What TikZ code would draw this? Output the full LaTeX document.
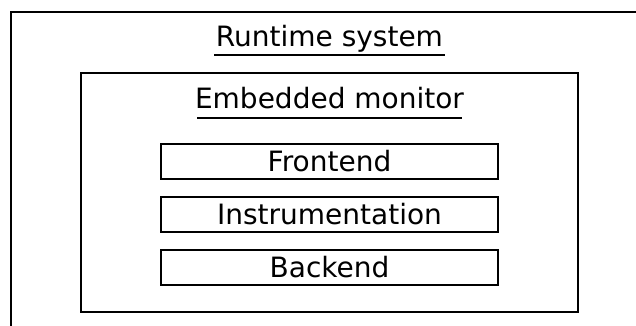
\documentclass[tikz,border=0pt]{standalone}
\usepackage{fontspec}
\setmainfont{DejaVu Sans}
\begin{document}
\begin{tikzpicture}[x=1pt,y=-1pt,
  frame/.style={draw=black,line width=1.8pt},
  title/.style={font=\fontsize{28}{32}\selectfont,anchor=base,inner sep=0pt},
  ul/.style={draw=black,line width=1.8pt},
  part/.style={draw=black,line width=1.8pt,minimum width=337pt,minimum height=35pt,inner sep=0pt,font=\fontsize{28}{32}\selectfont,text height=20.4pt,text depth=0pt}]
\useasboundingbox (0,0) rectangle (636,325);
\clip (0,0) rectangle (636,325);
\fill[white] (0,0) rectangle (636,325);
% outer runtime system box (extends past right and bottom)
\coordinate (obl) at (11,340);
\coordinate (otl) at (11,12);
\coordinate (otr) at (650,12);
\draw[frame] (obl) -- (otl) -- (otr);
\node[title] (rt) at (329.5,46.7) {Runtime system};
\coordinate (rtl) at (214,55);
\coordinate (rtr) at (445,55);
\draw[ul] (rtl) -- (rtr);
% embedded monitor box
\node[frame,minimum width=497pt,minimum height=239pt,inner sep=0pt] (em) at (329.5,192.8) {};
\node[title] (emt) at (329.5,108) {Embedded monitor};
\coordinate (eml) at (197,118);
\coordinate (emr) at (462,118);
\draw[ul] (eml) -- (emr);
% parts
\node[part] (fe) at (329.5,161.5) {Frontend};
\node[part] (in) at (329.5,214.5) {Instrumentation};
\node[part] (be) at (329.5,267.5) {Backend};
\end{tikzpicture}
\end{document}
